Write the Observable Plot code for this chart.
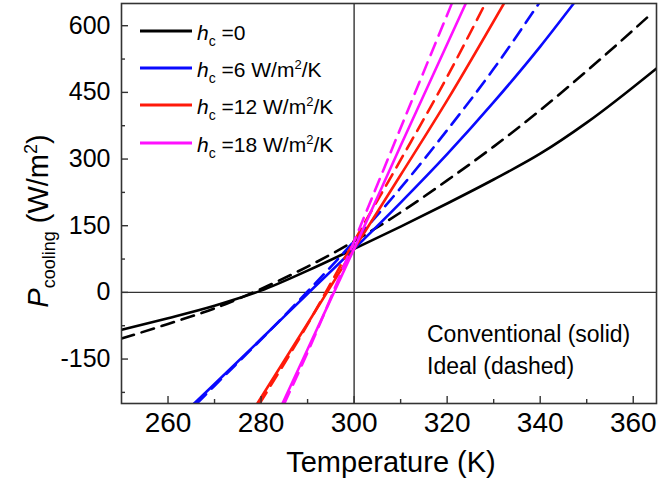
<!DOCTYPE html>
<html><head><meta charset="utf-8">
<script src="https://cdn.jsdelivr.net/npm/d3@7"></script>
<script src="https://cdn.jsdelivr.net/npm/@observablehq/plot@0.6"></script>
<style>body{margin:0;background:#fff}</style>
</head><body><div id="chart"></div>
<script>
// ---- data ----
const xTickLabels = [260, 280, 300, 320, 340, 360];
const yTickLabels = [-150, 0, 150, 300, 450, 600];
const xMinorTicks = [270, 290, 310, 330, 350];
const yMinorTicks = [-225, -75, 75, 225, 375, 525];

// [Temperature (K), P_cooling (W/m2)]
const hc0Conventional = [[250,-84],[260,-58],[270,-30],[280,4],[290,49],[300,98],[310,148],[320,200],[330,254],[340,312],[350,382],[365,504]];
const hc0Ideal        = [[250,-104],[260,-71],[270,-36],[280,8],[290,58],[300,115],[310,180],[320,252],[330,328],[340,410],[350,498],[364,628]];
const hc6Conventional = [[265.6,-250],[270,-206],[280,-105],[290,-3],[300,98],[310,202],[320,311],[330,428],[340,553],[347.2,650]];
const hc6Ideal        = [[266.2,-250],[270,-210],[280,-106],[290,2],[300,115],[310,235],[320,365],[330,503],[339.7,650]];
const hc12Conventional= [[279.2,-250],[290,-70],[300,98],[310,264],[320,432],[332.2,650]];
const hc12Ideal       = [[279.7,-250],[290,-72],[300,115],[310,298],[320,485],[328.2,650]];
const hc18Conventional= [[284.6,-250],[290,-128],[300,98],[310,330],[324,650]];
const hc18Ideal       = [[285,-250],[290,-135],[300,115],[310,370],[321,650]];

const legendValues = ["0", "6", "12", "18"];
const seriesColors = ["#000000", "#0a0aff", "#ff1a0a", "#ff10ff"];

const curves = [
  {pts: hc0Conventional, c: 0, dashed: false},
  {pts: hc0Ideal, c: 0, dashed: true},
  {pts: hc6Conventional, c: 1, dashed: false},
  {pts: hc6Ideal, c: 1, dashed: true},
  {pts: hc12Conventional, c: 2, dashed: false},
  {pts: hc12Ideal, c: 2, dashed: true},
  {pts: hc18Conventional, c: 3, dashed: false},
  {pts: hc18Ideal, c: 3, dashed: true}
];

const W = 658, H = 485;
const mL = 121, mR = 2, mT = 3, mB = 82;
const innerW = W - mL - mR, innerH = H - mT - mB;
const font = "'Liberation Sans', Arial, Helvetica, sans-serif";
const axisColor = "#333";

const lineMarks = curves.map(s => Plot.line(s.pts, {
  x: d => d[0], y: d => d[1],
  stroke: seriesColors[s.c], strokeWidth: 2.6,
  strokeDasharray: s.dashed ? "13,8" : null,
  curve: "monotone-x",
  clip: true
}));

const svg = Plot.plot({
  width: W, height: H,
  marginLeft: mL, marginRight: mR, marginTop: mT, marginBottom: mB,
  style: {fontFamily: font, background: "#fff", color: "#000"},
  x: {domain: [250, 365]},
  y: {domain: [-250, 650]},
  marks: [
    Plot.ruleX([300], {stroke: axisColor, strokeWidth: 1.4}),
    Plot.ruleY([0], {stroke: axisColor, strokeWidth: 1.4}),
    ...lineMarks,
    Plot.tickX(xTickLabels, {x: d => d, insetTop: innerH - 7, stroke: axisColor, strokeWidth: 1.4}),
    Plot.tickX(xMinorTicks, {x: d => d, insetTop: innerH - 4, stroke: axisColor, strokeWidth: 1.4}),
    Plot.tickY(yTickLabels, {y: d => d, insetRight: innerW - 7, stroke: axisColor, strokeWidth: 1.4}),
    Plot.tickY(yMinorTicks, {y: d => d, insetRight: innerW - 4, stroke: axisColor, strokeWidth: 1.4}),
    Plot.frame({stroke: axisColor, strokeWidth: 1.6}),
    Plot.axisX(xTickLabels, {tickSize: 0, tickPadding: 9, fontSize: 28, label: null, tickFormat: d => String(d)}),
    Plot.axisY(yTickLabels, {tickSize: 0, tickPadding: 11, fontSize: 25, label: null, tickFormat: d => String(d)})
  ]
});
document.getElementById("chart").appendChild(svg);

const s = d3.select(svg);
const g = s.append("g").attr("font-family", font).attr("fill", "#000").attr("text-anchor", "start");

// legend
const legendY = [31, 68, 105, 143];
legendValues.forEach((v, i) => {
  const y = legendY[i];
  g.append("line").attr("x1", 140).attr("x2", 192).attr("y1", y).attr("y2", y)
    .attr("stroke", seriesColors[i]).attr("stroke-width", 3);
  const t = g.append("text").attr("x", 197).attr("y", y + 9).attr("font-size", 21);
  t.append("tspan").attr("font-style", "italic").text("h");
  t.append("tspan").attr("font-size", 14).attr("dy", 6).text("c");
  if (v === "0") {
    t.append("tspan").attr("dy", -6).text(" =0");
  } else {
    t.append("tspan").attr("dy", -6).text(" =" + v + " W/m");
    t.append("tspan").attr("font-size", 13).attr("dy", -8).text("2");
    t.append("tspan").attr("dy", 8).text("/K");
  }
});

// annotation
g.append("text").attr("x", 427).attr("y", 342).attr("font-size", 23).text("Conventional (solid)");
g.append("text").attr("x", 427).attr("y", 374).attr("font-size", 23).text("Ideal (dashed)");

// axis titles
g.append("text").attr("x", 391).attr("y", 472).attr("font-size", 29)
  .attr("text-anchor", "middle").text("Temperature (K)");
const yt = g.append("text").attr("transform", "translate(48,221) rotate(-90)")
  .attr("text-anchor", "middle").attr("font-size", 29);
yt.append("tspan").attr("font-style", "italic").text("P");
yt.append("tspan").attr("font-size", 18).attr("dy", 7).text("cooling");
yt.append("tspan").attr("dy", -7).text(" (W/m");
yt.append("tspan").attr("font-size", 18).attr("dy", -11).text("2");
yt.append("tspan").attr("dy", 11).text(")");
</script>
</body></html>
